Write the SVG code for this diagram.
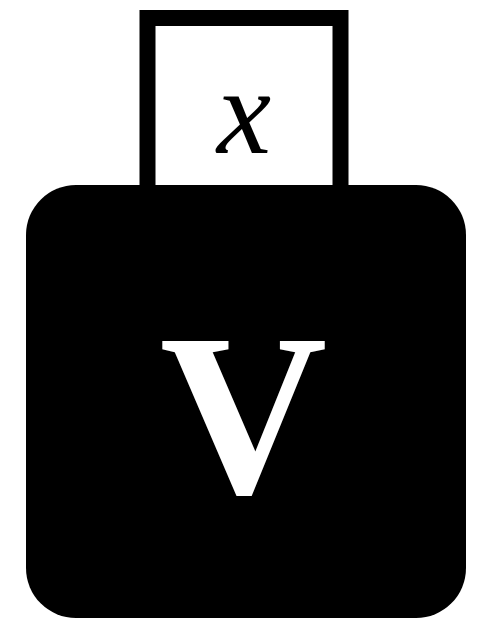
<svg xmlns="http://www.w3.org/2000/svg" width="492" height="619" viewBox="0 0 492 619">
<style>
.lbl{font-family:"Liberation Serif","Times New Roman",serif;text-anchor:middle}
</style>
<g id="input">
<rect x="147.5" y="18" width="193" height="180" fill="#fff" stroke="#000" stroke-width="16"/>
<text class="lbl" x="244" y="153" font-size="122" font-style="italic">x</text>
</g>
<g id="V">
<rect x="26" y="185" width="440" height="433" rx="50" ry="50" fill="#000"/>
<text class="lbl" x="243.5" y="493" font-size="232" font-weight="bold" fill="#fff">V</text>
</g>
<g id="connectors"/>
</svg>
